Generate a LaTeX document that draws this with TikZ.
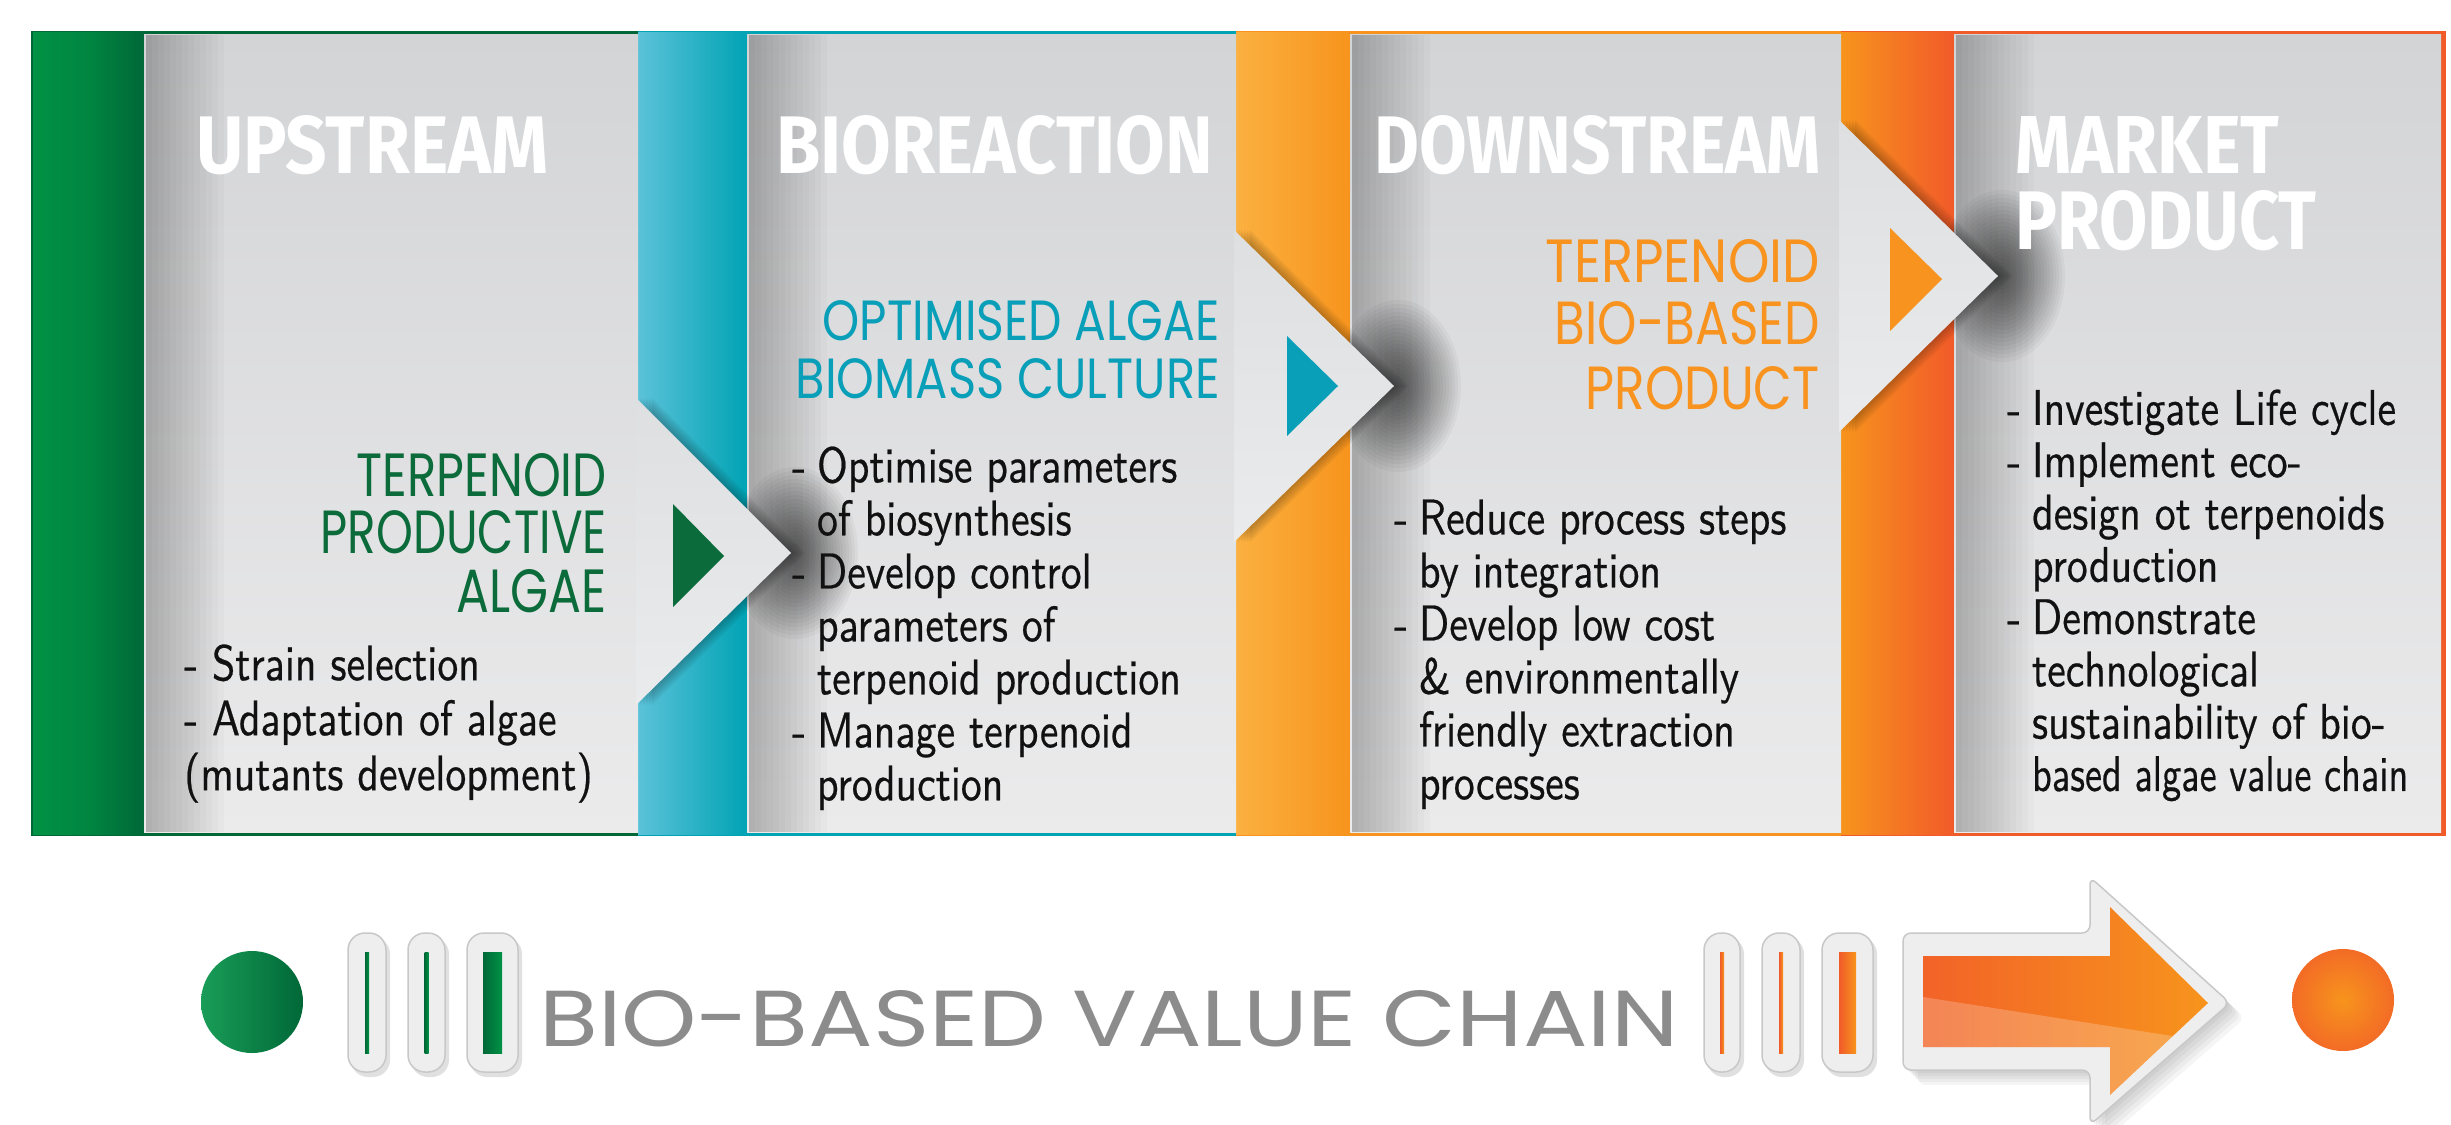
\documentclass[tikz,border=0pt]{standalone}
\usepackage{fontspec}
\usepackage{graphicx}
\newfontfamily\hdfont{Fira Sans}
\newfontfamily\geofont{Poppins}
\newfontfamily\bodyfont{lmsans10-regular.otf}[FakeBold=0.5]
\usetikzlibrary{calc}
\definecolor{gA}{HTML}{009245}
\definecolor{gB}{HTML}{006837}
\definecolor{gT}{HTML}{0B6B3A}
\definecolor{tA}{HTML}{5BC2D9}
\definecolor{tB}{HTML}{00A3B4}
\definecolor{tT}{HTML}{0A9FB8}
\definecolor{oA}{HTML}{FBB040}
\definecolor{oB}{HTML}{F7941D}
\definecolor{oT}{HTML}{F7931E}
\definecolor{rB}{HTML}{F15A29}
\definecolor{pTop}{HTML}{D3D4D6}
\definecolor{pBot}{HTML}{EBEBEC}
\definecolor{chevA}{HTML}{DEDFE1}
\definecolor{chevB}{HTML}{EAEBEC}
\definecolor{txt}{HTML}{111111}
\definecolor{chain}{HTML}{8C8C8C}
\definecolor{pillc}{HTML}{EEEEEF}
\definecolor{pilld}{HTML}{C8C8CA}
\newcommand{\hdr}[3]{\resizebox{#1pt}{#2pt}{\hdfont\bfseries #3}}
\newcommand{\subl}[3]{\resizebox{#1pt}{#2pt}{\geofont #3}}
\begin{document}
\begin{tikzpicture}[x=1pt,y=-1pt,
  panel/.style={top color=pTop,bottom color=pBot},
  chevron/.style={top color=chevA,bottom color=chevB},
  hd/.style={anchor=base west,inner sep=0pt,text=white},
  sub/.style={anchor=base east,inner sep=0pt},
  body/.style={anchor=north west,inner sep=0pt,text=txt,font=\bodyfont\fontsize{50}{53}\selectfont},
  shad/.style={black,opacity=0.05},
  blob/.style={black,opacity=0.034}]
\useasboundingbox (0,0) rectangle (2451,1124);
\fill[white] (0,0) rectangle (2451,1124);

% section frames
\fill[gB] (31,31) rectangle (638,836);
\fill[tB] (638,31) rectangle (1236,836);
\fill[oB] (1236,31) rectangle (1841,836);
\fill[rB] (1841,31) rectangle (2446,836);

% coloured bands
\shade[left color=gA,right color=gB,middle color=gA!70!gB] (33,33) rectangle (144,834);
\shade[left color=tA,right color=tB] (638,33) rectangle (747,834);
\shade[left color=oA,right color=oB] (1236,33) rectangle (1350,834);
\shade[left color=oB,right color=rB] (1841,33) rectangle (1954,834);

% grey panels
\shade[panel] (144,35) rectangle (638,832);
\shade[panel] (747,35) rectangle (1236,832);
\shade[panel] (1350,35) rectangle (1841,832);
\shade[panel] (1954,35) rectangle (2441,832);

% left-edge shadows of panels
\foreach \xo in {144,747,1350,1954}{
  \foreach \j in {0,...,12}{
    \fill[black,opacity=0.021] (\xo+2,35) rectangle (\xo+8+6*\j,832);
  }
}

% chevron shadows
\foreach \d in {2,5,...,14}{
  \fill[shad,shift={(\d,0)}] (638,398) -- (791,553) -- (638,705) -- cycle;
  \fill[shad,shift={(\d,0)}] (1236,230) -- (1394,386) -- (1236,542) -- cycle;
  \fill[shad,shift={(\d,0)}] (1841,120) -- (1998,276) -- (1841,432) -- cycle;
}
\foreach \k in {1,...,20}{
  \fill[blob] (795,553) ellipse[x radius=3+3*\k,y radius=6+4*\k];
  \fill[blob] (1398,386) ellipse[x radius=3+3*\k,y radius=6+4*\k];
  \fill[blob] (2002,276) ellipse[x radius=3+3*\k,y radius=6+4*\k];
}
% chevrons
\shade[chevron] (636,398) -- (791,553) -- (636,705) -- cycle;
\shade[chevron] (1234,230) -- (1394,386) -- (1234,542) -- cycle;
\shade[chevron] (1839,120) -- (1998,276) -- (1839,432) -- cycle;

% small triangles
\fill[gT] (673,504) -- (724,556) -- (673,607) -- cycle;
\fill[tT] (1287,336) -- (1338,386) -- (1287,436) -- cycle;
\fill[oT] (1890,228) -- (1942,279) -- (1890,331) -- cycle;

% headers
\node[hd] (h1) at (196,173) {\hdr{352}{58}{UPSTREAM}};
\node[hd] (h2) at (776,173) {\hdr{437}{58}{BIOREACTION}};
\node[hd] (h3) at (1374,173) {\hdr{446}{58}{DOWNSTREAM}};
\node[hd] (h4) at (2015,173) {\hdr{264}{57}{MARKET}};
\node[hd] (h5) at (2015,249) {\hdr{301}{59}{PRODUCT}};

% sub headings
\node[sub,text=gT] (g1) at (607,496) {\subl{250}{43}{TERPENOID}};
\node[sub,text=gT] (g2) at (607,553) {\subl{286}{43}{PRODUCTIVE}};
\node[sub,text=gT] (g3) at (607,612) {\subl{150}{43}{ALGAE}};
\node[sub,text=tT] (t1) at (1220,340) {\subl{397}{40}{OPTIMISED ALGAE}};
\node[sub,text=tT] (t2) at (1220,398) {\subl{424}{40}{BIOMASS CULTURE}};
\node[sub,text=oT] (o1) at (1820,282) {\subl{274}{43}{TERPENOID}};
\node[sub,text=oT] (o2) at (1820,344) {\subl{265}{43}{BIO-BASED}};
\node[sub,text=oT] (o3) at (1820,409) {\subl{234}{43}{PRODUCT}};

% body texts
\node[body,font=\bodyfont\fontsize{50}{55}\selectfont] (b1) at (184,641.5)
 {\scalebox{0.837}[1]{\begin{tabular}{@{}l@{}}- Strain selection\\- Adaptation of algae\\(mutants development)\end{tabular}}};
\node[body] (b2) at (792,445)
 {\scalebox{0.837}[1]{\begin{tabular}{@{}l@{\hspace{13pt}}l@{}}
 - & Optimise parameters\\
   & of biosynthesis\\
 - & Develop control\\
   & parameters of\\
   & terpenoid production\\
 - & Manage terpenoid\\
   & production\end{tabular}}};
\node[body] (b3) at (1394,497)
 {\scalebox{0.837}[1]{\begin{tabular}{@{}l@{\hspace{13pt}}l@{}}
 - & Reduce process steps\\
   & by integration\\
 - & Develop low cost\\
   & \& environmentally\\
   & friendly extraction\\
   & processes\end{tabular}}};
\node[body,font=\bodyfont\fontsize{50}{52.3}\selectfont] (b4) at (2007,388)
 {\scalebox{0.837}[1]{\begin{tabular}{@{}l@{\hspace{13pt}}l@{}}
 - & Investigate Life cycle\\
 - & Implement eco-\\
   & design ot terpenoids\\
   & production\\
 - & Demonstrate\\
   & technological\\
   & sustainability of bio-\\
   & \scalebox{0.915}[1]{based algae value chain}\end{tabular}}};

% ---------- bottom row ----------
\shade[left color=gA!90!white,right color=gB] (252,1002) circle[radius=51pt];
\foreach \xa/\xb/\w [count=\k] in {348/386/4,408/445/4,467/518/19}{
  \pgfmathsetmacro\cx{(\xa+\xb)/2}
  \fill[black,opacity=0.12,rounded corners=17pt] (\xa+3,937) rectangle (\xb+4,1077);
  \filldraw[fill=pillc,draw=pilld,line width=1.5pt,rounded corners=17pt] (\xa,933) rectangle (\xb,1072);
  \shade[left color=gB,right color=gA] (\cx-\w/2,952) rectangle (\cx+\w/2,1053);
}
\node[anchor=base west,inner sep=0pt,text=chain] (chain) at (539,1046)
 {\resizebox{1139pt}{56pt}{\geofont BIO-BASED VALUE CHAIN}};
\foreach \xa/\xb/\w [count=\k] in {1704/1740/4,1762/1800/4,1822/1873/17}{
  \pgfmathsetmacro\cx{(\xa+\xb)/2}
  \fill[black,opacity=0.12,rounded corners=17pt] (\xa+3,937) rectangle (\xb+4,1077);
  \filldraw[fill=pillc,draw=pilld,line width=1.5pt,rounded corners=17pt] (\xa,933) rectangle (\xb,1072);
  \shade[left color=rB,right color=oB] (\cx-\w/2,952) rectangle (\cx+\w/2,1053);
}
% big arrow
\foreach \d in {3,6,...,15}{
  \fill[black,opacity=0.04,rounded corners=8pt,shift={(\d,\d)}]
   (1903,933) -- (2090,933) -- (2090,877) -- (2230,1003) -- (2090,1125) -- (2090,1070) -- (1903,1070) -- cycle;
}
\filldraw[fill=pillc,draw=pilld,line width=1.5pt,rounded corners=8pt]
 (1903,933) -- (2090,933) -- (2090,877) -- (2230,1003) -- (2090,1125) -- (2090,1070) -- (1903,1070) -- cycle;
\shade[left color=rB!85!oB,right color=oB]
 (1923,956) -- (2110,956) -- (2110,907) -- (2208,1003) -- (2110,1095) -- (2110,1047) -- (1923,1047) -- cycle;
\begin{scope}
\clip (1923,956) -- (2110,956) -- (2110,907) -- (2208,1003) -- (2110,1095) -- (2110,1047) -- (1923,1047) -- cycle;
\fill[white,opacity=0.22] (1923,997) -- (2230,1045) -- (2230,1100) -- (1923,1100) -- cycle;
\end{scope}
\shade[inner color=oB,outer color=rB!70!oB] (2343,1000) circle[radius=51pt];
\end{tikzpicture}
\end{document}
